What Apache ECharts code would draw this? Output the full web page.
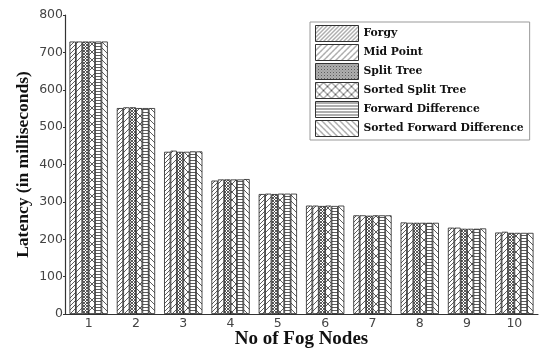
<!DOCTYPE html>
<html><head><meta charset="utf-8">
<script src="https://cdn.jsdelivr.net/npm/echarts@6/dist/echarts.min.js"></script>
<style>html,body{margin:0;padding:0;background:#fff}#c{width:554px;height:349px}</style>
</head><body><div id="c"></div>
<script>
const categories = ['1','2','3','4','5','6','7','8','9','10'];
const seriesNames = ['Forgy','Mid Point','Split Tree','Sorted Split Tree','Forward Difference','Sorted Forward Difference'];
const forgy       = [729, 551, 434, 357, 321, 290, 264, 245, 231, 218];
const midPoint    = [729, 553, 437, 360, 322, 290, 264, 244, 231, 220];
const splitTree   = [729, 553, 434, 360, 321, 289, 263, 244, 228, 217];
const sortedSplit = [729, 551, 434, 360, 322, 290, 264, 244, 228, 217];
const forwardDiff = [729, 551, 435, 360, 322, 289, 264, 244, 228, 217];
const sortedFD    = [729, 551, 435, 361, 322, 290, 264, 244, 229, 217];
const yTicks = [0,100,200,300,400,500,600,700,800];

function tile(size, draw){
  const c = document.createElement('canvas');
  c.width = size; c.height = size;
  const g = c.getContext('2d');
  g.fillStyle = '#fff'; g.fillRect(0,0,size,size);
  g.strokeStyle = '#333'; g.lineWidth = 0.8;
  draw(g, size);
  return {image: c, repeat: 'repeat'};
}
function fwd(g, s){ // "/"
  g.beginPath();
  g.moveTo(-1,1); g.lineTo(1,-1);
  g.moveTo(0,s); g.lineTo(s,0);
  g.moveTo(s-1,s+1); g.lineTo(s+1,s-1);
  g.stroke();
}
function back(g, s){ // "\"
  g.beginPath();
  g.moveTo(-1,s-1); g.lineTo(1,s+1);
  g.moveTo(0,0); g.lineTo(s,s);
  g.moveTo(s-1,-1); g.lineTo(s+1,1);
  g.stroke();
}
const patterns = [
  tile(4, fwd),
  tile(6, fwd),
  tile(3, (g,s)=>{fwd(g,s);back(g,s);}),
  tile(8, (g,s)=>{fwd(g,s);back(g,s);}),
  tile(3, (g,s)=>{g.beginPath();g.moveTo(0,1.5);g.lineTo(s,1.5);g.stroke();}),
  tile(6, back)
];
const dataSets = [forgy, midPoint, splitTree, sortedSplit, forwardDiff, sortedFD];

const chart = echarts.init(document.getElementById('c'), null, {renderer:'canvas'});
chart.setOption({
  animation: false,
  backgroundColor: '#fff',
  grid: {left: 65, right: 16, top: 15, bottom: 35, containLabel: false, outerBoundsMode: 'none'},
  legend: {
    orient: 'vertical', left: 310, top: 22,
    icon: 'rect', itemWidth: 43, itemHeight: 16, itemGap: 2,
    padding: [3, 6, 3, 5],
    borderColor: '#999', borderWidth: 1,
    itemStyle: {borderColor: '#333', borderWidth: 1},
    textStyle: {fontFamily: 'DejaVu Serif', fontWeight: 'bold', fontSize: 10.8, color: '#111', padding: [0,0,0,0]},
    data: seriesNames
  },
  xAxis: {
    type: 'category', data: categories,
    name: 'No of Fog Nodes', nameLocation: 'middle', nameGap: 16, nameMoveOverlap: false,
    nameTextStyle: {fontFamily: 'Liberation Serif', fontWeight: 'bold', fontSize: 19, color: '#111'},
    axisLine: {lineStyle: {color: '#333', width: 1.2}},
    axisTick: {show: true, alignWithLabel: true, inside: true, length: 3, lineStyle: {color: '#333'}},
    axisLabel: {fontFamily: 'DejaVu Sans', fontSize: 12.5, color: '#444', margin: 3}
  },
  yAxis: {
    type: 'value', min: 0, max: 800, interval: 100,
    name: 'Latency (in milliseconds)', nameLocation: 'middle', nameGap: 33, nameMoveOverlap: false,
    nameTextStyle: {fontFamily: 'Liberation Serif', fontWeight: 'bold', fontSize: 17.5, color: '#111'},
    axisLine: {show: true, lineStyle: {color: '#333', width: 1.2}},
    axisTick: {show: true, length: 2, lineStyle: {color: '#333'}},
    splitLine: {show: false},
    axisLabel: {fontFamily: 'DejaVu Sans', fontSize: 12.5, color: '#444', margin: 2,
      formatter: v => yTicks.includes(v) ? String(v) : ''}
  },
  series: seriesNames.map((n, i) => ({
    name: n, type: 'bar', data: dataSets[i],
    barGap: '0%', barCategoryGap: '19%',
    itemStyle: {color: patterns[i], borderColor: '#222', borderWidth: 0.8}
  }))
});
</script></body></html>
